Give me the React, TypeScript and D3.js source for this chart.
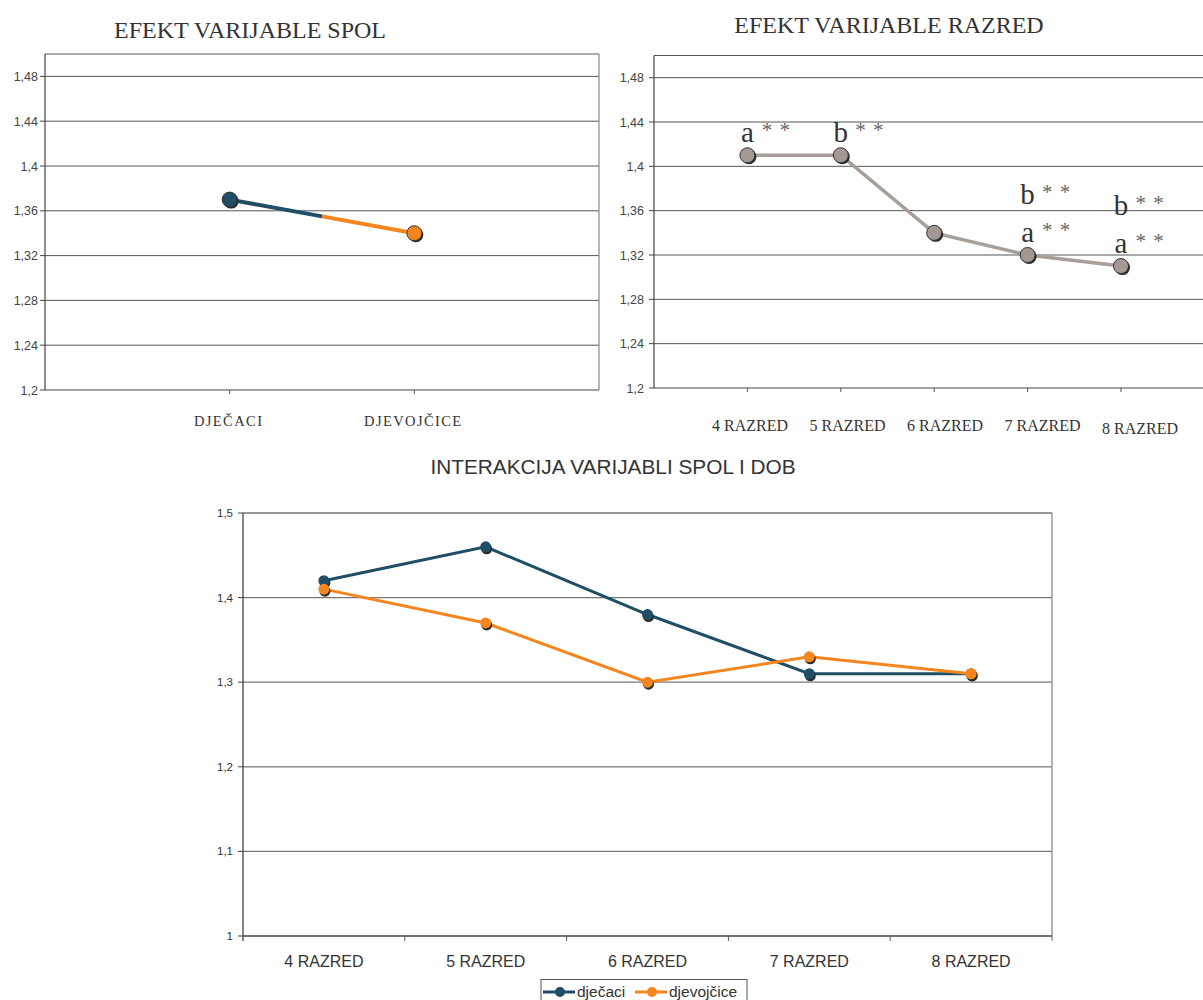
import React from 'react'
import * as d3 from 'd3'

// top-left: effect of gender
const spolCategories = ['DJEČACI', 'DJEVOJČICE']
const spolValues = [1.37, 1.34]
const topTicks = [1.2, 1.24, 1.28, 1.32, 1.36, 1.4, 1.44, 1.48]

// top-right: effect of grade
const razredCategories = ['4 RAZRED', '5 RAZRED', '6 RAZRED', '7 RAZRED', '8 RAZRED']
const razredValues = [1.41, 1.41, 1.34, 1.32, 1.31]
// significance letters, listed bottom to top
const razredMarks = [['a'], ['b'], [], ['a', 'b'], ['a', 'b']]

// bottom: interaction
const seriesNames = ['dječaci', 'djevojčice']
const djecaciValues = [1.42, 1.46, 1.38, 1.31, 1.31]
const djevojciceValues = [1.41, 1.37, 1.3, 1.33, 1.31]
const bottomTicks = [1, 1.1, 1.2, 1.3, 1.4, 1.5]

const BOY = '#1f4e66'
const GIRL = '#f5861f'
const GREY_MARK = '#a39894'
const SANS = 'Liberation Sans, Arial, sans-serif'
const SERIF = 'Liberation Serif, Times New Roman, serif'

const fmt = (v: number) => String(+v.toFixed(2)).replace('.', ',')

const Marker = ({ cx, cy, r, fill }: { cx: number; cy: number; r: number; fill: string }) => (
  <g>
    <circle cx={cx + 1.5} cy={cy + 1.5} r={r} fill="#2b2b2b" />
    <circle cx={cx} cy={cy} r={r} fill={fill} stroke="#333" strokeWidth={1} />
  </g>
)

function SpolChart() {
  const left = 45, right = 599, top = 54, bottom = 390
  const x = d3.scalePoint<string>().domain(spolCategories).range([left, right]).padding(1)
  const y = d3.scaleLinear().domain([1.2, 1.5]).range([bottom, top])
  const p0 = [x(spolCategories[0])!, y(spolValues[0])]
  const p1 = [x(spolCategories[1])!, y(spolValues[1])]
  const mid = [(p0[0] + p1[0]) / 2, (p0[1] + p1[1]) / 2]
  return (
    <g>
      <text x={250} y={38} textAnchor="middle" fontFamily={SERIF} fontSize={24} fill="#333">
        EFEKT VARIJABLE SPOL
      </text>
      {topTicks.map(t => (
        <g key={t}>
          {t > 1.2 && <line x1={left} x2={right} y1={y(t)} y2={y(t)} stroke="#555" strokeWidth={1} />}
          <line x1={left - 5} x2={left} y1={y(t)} y2={y(t)} stroke="#444" />
          <text x={left - 7} y={y(t) + 4.5} textAnchor="end" fontFamily={SANS} fontSize={12.5} fill="#444">
            {fmt(t)}
          </text>
        </g>
      ))}
      <line x1={left} x2={right} y1={top} y2={top} stroke="#555" />
      <line x1={right} x2={right} y1={top} y2={bottom} stroke="#888" strokeWidth={1.2} />
      <line x1={left} x2={right} y1={bottom} y2={bottom} stroke="#444" strokeWidth={1.2} />
      <line x1={left} x2={left} y1={top} y2={bottom} stroke="#444" strokeWidth={1.2} />
      {spolCategories.map(c => (
        <g key={c}>
          <line x1={x(c)} x2={x(c)} y1={bottom} y2={bottom + 4} stroke="#555" />
          <text x={x(c)! - 1} y={426} textAnchor="middle" fontFamily={SERIF} fontSize={14.5} letterSpacing={1.4} fill="#333">
            {c}
          </text>
        </g>
      ))}
      <line x1={p0[0]} y1={p0[1]} x2={mid[0]} y2={mid[1]} stroke={BOY} strokeWidth={4} />
      <line x1={mid[0]} y1={mid[1]} x2={p1[0]} y2={p1[1]} stroke={GIRL} strokeWidth={4} />
      <Marker cx={p0[0]} cy={p0[1]} r={7.5} fill={BOY} />
      <Marker cx={p1[0]} cy={p1[1]} r={7.5} fill={GIRL} />
    </g>
  )
}

function RazredChart() {
  const left = 654, top = 55.5, bottom = 388
  const step = 93.4
  const right = left + step * 6
  const x = d3.scalePoint<string>().domain(razredCategories).range([left, right]).padding(1)
  const xLabel = d3.scalePoint<string>().domain(razredCategories).range([750, 1140])
  const y = d3.scaleLinear().domain([1.2, 1.5]).range([bottom, top])
  const line = d3.line<number>().x((_, i) => x(razredCategories[i])!).y(d => y(d))
  return (
    <g>
      <text x={889} y={33} textAnchor="middle" fontFamily={SERIF} fontSize={24} fill="#333">
        EFEKT VARIJABLE RAZRED
      </text>
      {topTicks.map(t => (
        <g key={t}>
          {t > 1.2 && <line x1={left} x2={right} y1={y(t)} y2={y(t)} stroke="#555" strokeWidth={1} />}
          <line x1={left - 5} x2={left} y1={y(t)} y2={y(t)} stroke="#444" />
          <text x={left - 10} y={y(t) + 4.5} textAnchor="end" fontFamily={SANS} fontSize={12.5} fill="#444">
            {fmt(t)}
          </text>
        </g>
      ))}
      <line x1={left} x2={right} y1={top} y2={top} stroke="#555" />
      <line x1={left} x2={right} y1={bottom} y2={bottom} stroke="#444" strokeWidth={1.2} />
      <line x1={left} x2={left} y1={top} y2={bottom} stroke="#444" strokeWidth={1.2} />
      {razredCategories.map((c, i) => (
        <g key={c}>
          <line x1={x(c)} x2={x(c)} y1={bottom} y2={bottom + 4} stroke="#555" />
          <text x={xLabel(c)} y={i === 4 ? 434 : 431} textAnchor="middle" fontFamily={SERIF} fontSize={16} fill="#333">
            {c}
          </text>
        </g>
      ))}
      <path d={line(razredValues) || ''} fill="none" stroke="#a79e9a" strokeWidth={3.5} />
      {razredValues.map((v, i) => (
        <Marker key={i} cx={x(razredCategories[i])!} cy={y(v)} r={7.5} fill={GREY_MARK} />
      ))}
      {razredMarks.map((marks, i) =>
        marks.map((m, k) => {
          const cx = x(razredCategories[i])!
          const by = y(razredValues[i]) - 13 - k * 38
          return (
            <g key={`${i}-${k}`}>
              <text x={cx} y={by} textAnchor="middle" fontFamily={SERIF} fontSize={29} fill="#333">
                {m}
              </text>
              <text x={cx + 29} y={by - 5} textAnchor="middle" fontFamily={SERIF} fontSize={21} letterSpacing={1} fill="#666">
                * *
              </text>
            </g>
          )
        })
      )}
    </g>
  )
}

function InterakcijaChart() {
  const left = 243, right = 1052, top = 513, bottom = 936
  const x = d3.scaleBand<string>().domain(razredCategories).range([left, right])
  const y = d3.scaleLinear().domain([1, 1.5]).range([bottom, top])
  const cx = (i: number) => x(razredCategories[i])! + x.bandwidth() / 2
  const line = d3.line<number>().x((_, i) => cx(i)).y(d => y(d))
  const series = [
    { name: seriesNames[0], values: djecaciValues, color: BOY },
    { name: seriesNames[1], values: djevojciceValues, color: GIRL },
  ]
  return (
    <g>
      <text x={613} y={474} textAnchor="middle" fontFamily={SANS} fontSize={20.8} fill="#333">
        INTERAKCIJA VARIJABLI SPOL I DOB
      </text>
      {bottomTicks.map(t => (
        <g key={t}>
          {t > 1 && <line x1={left} x2={right} y1={y(t)} y2={y(t)} stroke={t === 1.5 ? '#333' : '#777'} strokeWidth={1.2} />}
          <line x1={left - 5} x2={left} y1={y(t)} y2={y(t)} stroke="#444" />
          <text x={left - 10} y={y(t) + 4} textAnchor="end" fontFamily={SANS} fontSize={11.5} fill="#333">
            {fmt(t)}
          </text>
        </g>
      ))}
      <line x1={right} x2={right} y1={top} y2={bottom + 5} stroke="#999" strokeWidth={1.5} />
      <line x1={left} x2={right} y1={bottom} y2={bottom} stroke="#444" strokeWidth={1.3} />
      <line x1={left} x2={left} y1={top} y2={bottom + 5} stroke="#444" strokeWidth={1.3} />
      {razredCategories.map((c, i) => (
        <g key={c}>
          {i > 0 && <line x1={x(c)} x2={x(c)} y1={bottom} y2={bottom + 5} stroke="#555" />}
          <text x={cx(i)} y={967} textAnchor="middle" fontFamily={SANS} fontSize={16} fill="#333">
            {c}
          </text>
        </g>
      ))}
      {series.map(s => (
        <g key={s.name}>
          <path d={line(s.values) || ''} fill="none" stroke={s.color} strokeWidth={3} />
          {s.values.map((v, i) => (
            <g key={i}>
              <circle cx={cx(i) + 1} cy={y(v) + 2} r={5.5} fill="#2b2b2b" />
              <circle cx={cx(i)} cy={y(v)} r={5.5} fill={s.color} />
            </g>
          ))}
        </g>
      ))}
      {/* legend */}
      <rect x={541} y={979.5} width={206} height={30} fill="#fff" stroke="#555" strokeWidth={1} />
      {series.map((s, i) => {
        const lx = i === 0 ? 543 : 635
        return (
          <g key={s.name}>
            <line x1={lx} x2={lx + 32} y1={992} y2={992} stroke={s.color} strokeWidth={3} />
            <circle cx={lx + 17} cy={992} r={5} fill={s.color} />
            <text x={lx + 34} y={997} fontFamily={SANS} fontSize={15.5} fill="#333">
              {s.name}
            </text>
          </g>
        )
      })}
    </g>
  )
}

export default function App() {
  return (
    <svg
      width={1203}
      height={1000}
      style={{ position: 'absolute', left: 0, top: 0, background: '#fff' }}
    >
      <rect width={1203} height={1000} fill="#fff" />
      <SpolChart />
      <RazredChart />
      <InterakcijaChart />
    </svg>
  )
}
